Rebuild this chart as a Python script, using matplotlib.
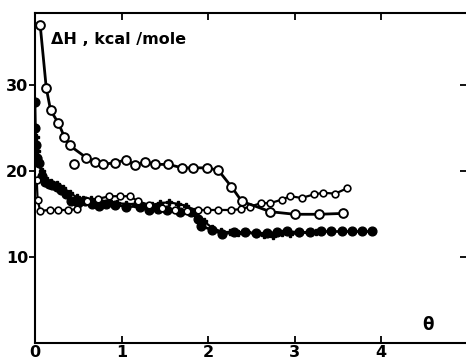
import matplotlib.pyplot as plt

plt.rcParams['font.family'] = 'DejaVu Sans'
plt.rcParams['font.weight'] = 'bold'

# ---- data (theta, delta H in kcal/mole) ----
open_large_x = [0.06, 0.13, 0.18, 0.27, 0.34, 0.40, 0.59, 0.69, 0.79, 0.92, 1.05, 1.16,
                1.27, 1.39, 1.54, 1.70, 1.83, 1.99, 2.12, 2.27, 2.39, 2.72, 3.00, 3.28, 3.56]
open_large_y = [37.0, 29.7, 27.1, 25.6, 24.0, 23.0, 21.6, 21.1, 20.8, 21.0, 21.3, 20.7,
                21.1, 20.8, 20.8, 20.4, 20.4, 20.4, 20.1, 18.2, 16.5, 15.3, 15.0, 15.0, 15.1]
stray_x = [0.45]
stray_y = [20.9]

open_small_x = [0.02, 0.03, 0.06, 0.17, 0.27, 0.38, 0.48, 0.60, 0.73, 0.86, 0.98, 1.10,
                1.19, 1.32, 1.47, 1.62, 1.76, 1.88, 1.99, 2.12, 2.26, 2.38, 2.49, 2.61,
                2.72, 2.85, 2.95, 3.08, 3.22, 3.33, 3.47, 3.60]
open_small_y = [19.0, 16.7, 15.4, 15.5, 15.5, 15.5, 15.6, 16.5, 16.8, 17.1, 17.1, 17.1,
                16.5, 16.1, 15.7, 15.5, 15.4, 15.5, 15.5, 15.5, 15.5, 15.6, 15.9, 16.3,
                16.3, 16.7, 17.1, 16.9, 17.3, 17.5, 17.4, 18.0]

filled_x = [0.0, 0.005, 0.01, 0.02, 0.05, 0.08, 0.12, 0.16, 0.20, 0.25, 0.30, 0.36, 0.42,
            0.50, 0.58, 0.66, 0.74, 0.82, 0.92, 1.05, 1.21, 1.32, 1.42, 1.52, 1.67, 1.80,
            1.88, 1.92, 2.05, 2.16, 2.30, 2.43, 2.55, 2.68, 2.80, 2.91, 3.05, 3.18, 3.30,
            3.42, 3.55, 3.66, 3.78, 3.89]
filled_y = [28.0, 25.0, 23.0, 21.5, 21.0, 19.5, 18.7, 18.5, 18.4, 18.2, 17.8, 17.3, 16.6,
            16.3, 16.5, 16.2, 16.0, 16.2, 16.1, 15.9, 15.9, 15.5, 15.6, 15.5, 15.3, 15.3,
            14.4, 13.6, 13.2, 12.7, 12.9, 12.9, 12.8, 12.8, 12.9, 13.0, 12.9, 12.9, 13.0,
            13.0, 13.0, 13.0, 13.0, 13.0]

cross_x = [0.01, 0.015, 0.02, 0.04, 0.08, 0.12, 0.18, 0.25, 0.32, 0.40, 0.48, 0.56, 0.65,
           0.75, 0.85, 0.95, 1.05, 1.15, 1.25, 1.35, 1.45, 1.55, 1.65, 1.75, 1.85, 1.95,
           2.05, 2.15, 2.25, 2.35, 2.45, 2.55, 2.65, 2.75, 2.85, 2.95, 3.05, 3.15, 3.25]
cross_y = [24.0, 23.3, 22.3, 21.5, 20.0, 19.2, 18.8, 18.5, 18.0, 17.5, 17.0, 16.8, 16.8,
           16.6, 16.5, 16.3, 16.2, 16.2, 16.0, 16.1, 16.3, 16.4, 16.2, 16.0, 15.4, 14.2,
           13.4, 13.0, 12.9, 12.8, 12.9, 12.7, 12.6, 12.5, 12.8, 12.7, 12.8, 12.9, 12.9]

x_ticks = [0, 1, 2, 3, 4]
y_ticks = [10, 20, 30]

fig = plt.figure(figsize=(4.66, 3.62), dpi=100)
ax = fig.add_axes([0.0751, 0.0517, 0.9249, 0.9123])

ax.plot(cross_x, cross_y, color='black', lw=1.6, marker='P', ms=4.5,
        mfc='black', mec='black')
ax.plot(filled_x, filled_y, color='black', lw=1.9, marker='o', ms=6.3,
        mfc='black', mec='black')
ax.plot(open_small_x, open_small_y, color='black', lw=1.6, marker='o', ms=4.8,
        mfc='white', mec='black', mew=1.2)
ax.plot(open_large_x, open_large_y, color='black', lw=2.0, marker='o', ms=6.3,
        mfc='white', mec='black', mew=1.4)
ax.plot(stray_x, stray_y, ls='none', marker='o', ms=6.3, mfc='white', mec='black', mew=1.4)

ax.set_xlim(0, 4.98)
ax.set_ylim(0, 38.4)
ax.set_xticks(x_ticks)
ax.set_yticks(y_ticks)

for side in ['left', 'bottom', 'top']:
    ax.spines[side].set_linewidth(1.5)
ax.spines['right'].set_visible(False)

ax.tick_params(axis='x', direction='in', length=5, width=1.3, top=True, pad=1,
               labelsize=11.5)
ax.tick_params(axis='y', direction='out', length=4, width=1.3, pad=1, labelsize=11.5)
ax.tick_params(axis='y', which='major', right=True)
for t in ax.yaxis.get_major_ticks():
    t.tick2line.set_marker(0)  # inward tick on the right edge
    t.tick2line.set_markersize(4)

ax.text(0.19, 35.3, 'ΔH , kcal /mole', fontsize=11.5, fontweight='bold', va='center')
ax.text(4.54, 2.15, 'θ', fontsize=12, fontweight='bold', ha='center', va='center')

fig.savefig('out.png', dpi=100)
